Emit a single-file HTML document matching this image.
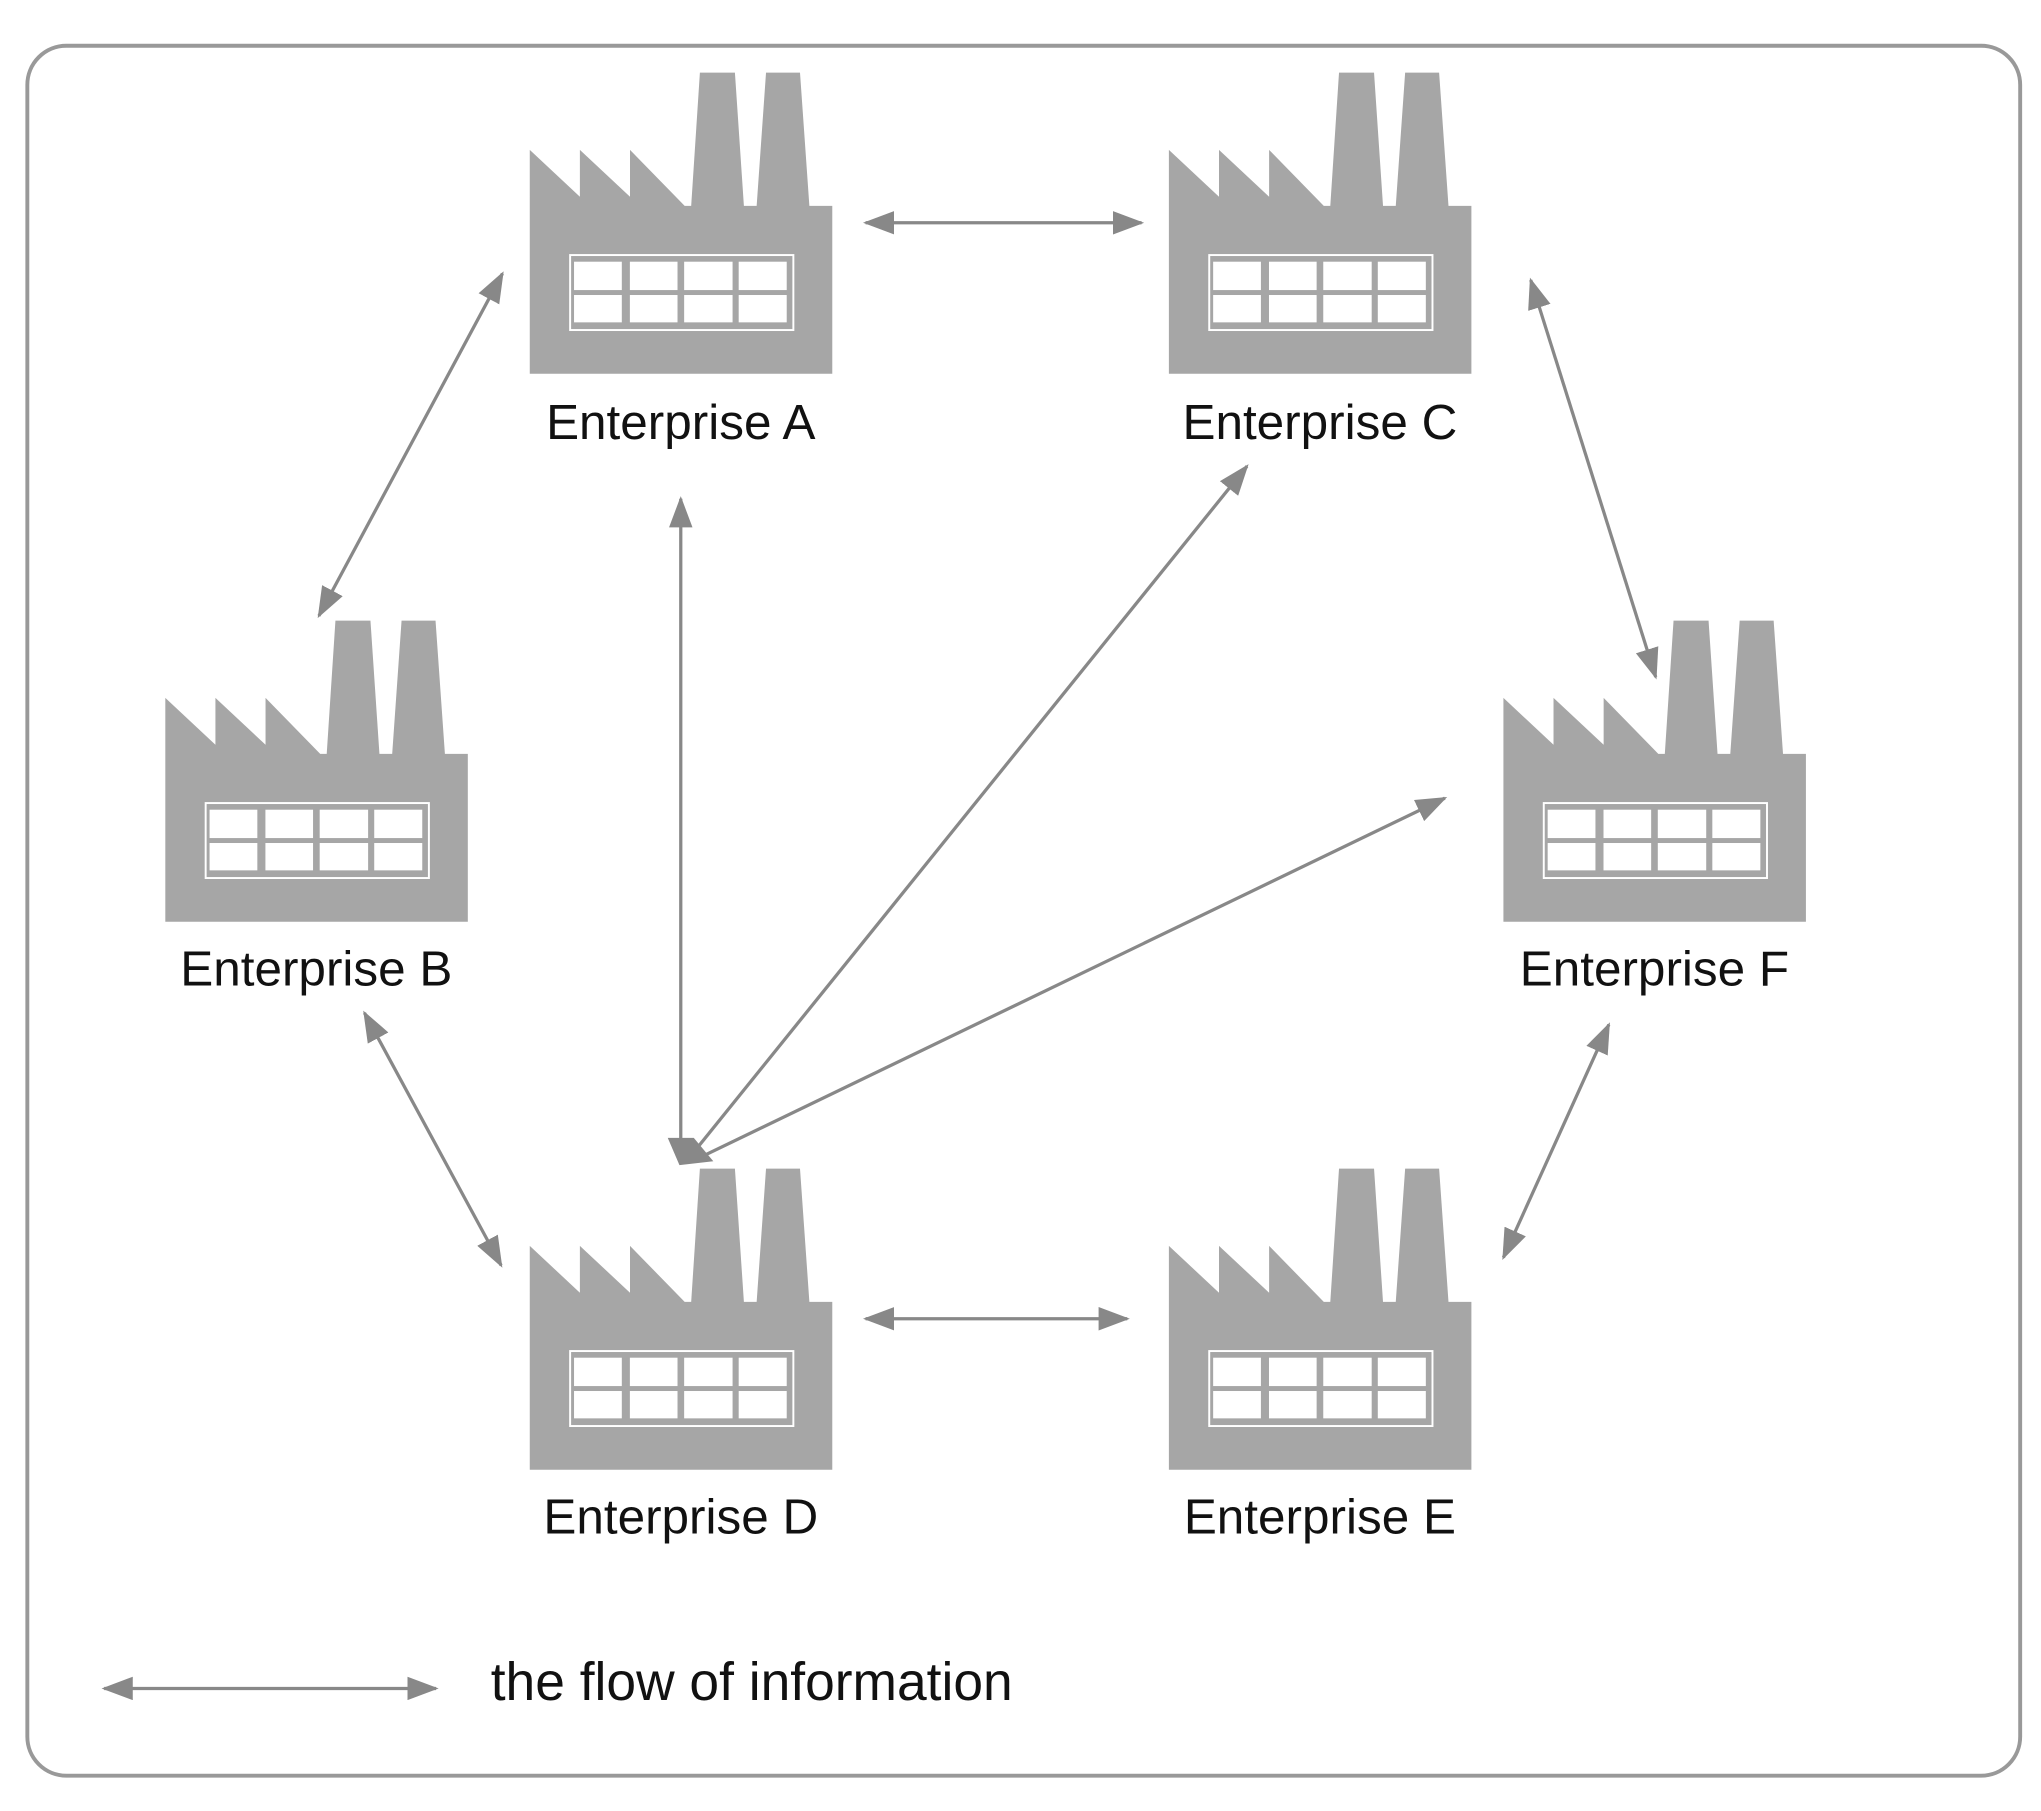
<!DOCTYPE html>
<html><head><style>html,body{margin:0;padding:0;background:#fff}svg{display:block}</style></head>
<body>
<svg width="2041" height="1811" viewBox="0 0 1568 1391" xmlns="http://www.w3.org/2000/svg">
<defs>
<marker id="ah" viewBox="0 0 24 18" refX="22" refY="9" markerWidth="24" markerHeight="18" markerUnits="userSpaceOnUse" orient="auto-start-reverse">
<path d="M0,0 L24,9 L0,18 Z" fill="#888"/>
</marker>
<g id="fac">
<path d="M0,232 L0,60 L38.5,96 L38.5,60 L77,96 L77,60 L119,103 L124,103 L130.7,0.6 L157.6,0.6 L164.5,103 L174.3,103 L181.5,0.6 L207.6,0.6 L214.8,103 L232.4,103 L232.4,232 Z" fill="#a6a6a6"/>
<rect x="31" y="140.8" width="171.5" height="57.6" fill="none" stroke="#fff" stroke-width="1.5"/>
<g fill="#fff">
<rect x="34" y="145.9" width="36.7" height="21.8"/><rect x="76.9" y="145.9" width="36.6" height="21.8"/><rect x="118.6" y="145.9" width="37.2" height="21.8"/><rect x="160.5" y="145.9" width="36.9" height="21.8"/>
<rect x="34" y="171.5" width="36.7" height="21"/><rect x="76.9" y="171.5" width="36.6" height="21"/><rect x="118.6" y="171.5" width="37.2" height="21"/><rect x="160.5" y="171.5" width="36.9" height="21"/>
</g>
</g>
</defs>
<rect x="21" y="35" width="1531" height="1329" rx="30" fill="none" stroke="#999" stroke-width="3"/>
<use href="#fac" x="407" y="55"/>
<use href="#fac" x="898" y="55"/>
<use href="#fac" x="127" y="476"/>
<use href="#fac" x="1155" y="476"/>
<use href="#fac" x="407" y="897"/>
<use href="#fac" x="898" y="897"/>
<g font-family="Liberation Sans, sans-serif" font-size="38" fill="#111" text-anchor="middle">
<text x="523" y="337">Enterprise A</text>
<text x="1014" y="337">Enterprise C</text>
<text x="243" y="757">Enterprise B</text>
<text x="1271" y="757">Enterprise F</text>
<text x="523" y="1178">Enterprise D</text>
<text x="1014" y="1178">Enterprise E</text>
<text x="377" y="1306" text-anchor="start" font-size="41">the flow of information</text>
</g>
<g stroke="#888" stroke-width="2.5" fill="none">
<line x1="665" y1="171" x2="877" y2="171" marker-start="url(#ah)" marker-end="url(#ah)"/>
<line x1="386" y1="210" x2="245" y2="473" marker-start="url(#ah)" marker-end="url(#ah)"/>
<line x1="1176" y1="215" x2="1272" y2="520" marker-start="url(#ah)" marker-end="url(#ah)"/>
<line x1="280" y1="778" x2="385" y2="972" marker-start="url(#ah)" marker-end="url(#ah)"/>
<line x1="665" y1="1013" x2="866" y2="1013" marker-start="url(#ah)" marker-end="url(#ah)"/>
<line x1="1236" y1="787" x2="1155" y2="966" marker-start="url(#ah)" marker-end="url(#ah)"/>
<line x1="523" y1="885" x2="523" y2="383" marker-end="url(#ah)"/>
<line x1="533" y1="885" x2="958" y2="358" marker-end="url(#ah)"/>
<line x1="540" y1="888" x2="1110" y2="613" marker-end="url(#ah)"/>
<line x1="80" y1="1297" x2="335" y2="1297" marker-start="url(#ah)" marker-end="url(#ah)"/>
</g>
<path d="M513,874 L533,874 L548,892 L522,895 Z" fill="#888"/>
</svg>
</body></html>
